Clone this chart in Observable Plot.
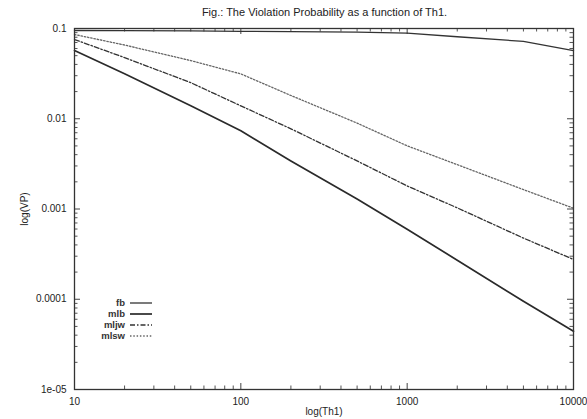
<!DOCTYPE html>
<html><head><meta charset="utf-8">
<script src="https://cdn.jsdelivr.net/npm/d3@7"></script>
<script src="https://cdn.jsdelivr.net/npm/@observablehq/plot@0.6"></script>
<style>
body{margin:0;background:#fff;font-family:"Liberation Sans",Arial,sans-serif;}
#wrap{position:relative;width:587px;height:419px;overflow:hidden;}
#title{height:20px;line-height:25px;font-size:11px;text-align:center;padding-left:62px;color:#222;white-space:nowrap;}
.lab{position:absolute;font-size:9.5px;font-weight:bold;color:#333;text-align:right;width:60px;line-height:10px;}
.smp{position:absolute;}
</style></head><body>
<div id="wrap">
<div id="title">Fig.: The Violation Probability as a function of Th1.</div>
<div id="chart"></div>
<div id="legend"></div>
</div>
<script>
// ---- data ----
const thresholds = [10, 20, 50, 100, 200, 500, 1000, 2000, 5000, 10000];
const fb   = [0.095, 0.0948, 0.0943, 0.093, 0.0925, 0.091, 0.0887, 0.081, 0.072, 0.057];
const mlb  = [0.057, 0.0316, 0.0139, 0.00736, 0.00341, 0.00129, 0.000595, 0.000271, 0.000095, 0.0000441];
const mljw = [0.0755, 0.0476, 0.0251, 0.0139, 0.00774, 0.00341, 0.0018, 0.00103, 0.000476, 0.000276];
const mlsw = [0.0858, 0.0656, 0.0441, 0.0314, 0.0181, 0.00895, 0.00501, 0.0031, 0.00164, 0.00102];
const seriesNames = ["fb", "mlb", "mljw", "mlsw"];
const xTickValues = [10, 100, 1000, 10000];
const xTickLabels = ["10", "100", "1000", "10000"];
const yTickValues = [0.1, 0.01, 0.001, 0.0001, 0.00001];
const yTickLabels = ["0.1", "0.01", "0.001", "0.0001", "1e-05"];

// ---- styles ----
const styles = {
  fb:   {stroke: "#333", strokeWidth: 1.3, dash: null},
  mlb:  {stroke: "#2a2a2a", strokeWidth: 1.7, dash: null},
  mljw: {stroke: "#333", strokeWidth: 1.3, dash: "5,2,1.5,2"},
  mlsw: {stroke: "#666", strokeWidth: 1.3, dash: "1.5,1.8"}
};
const values = {fb, mlb, mljw, mlsw};
const rows = seriesNames.flatMap(s => thresholds.map((t, i) => ({s, t, v: values[s][i]})));

const W = 587, H = 399, mL = 74, mR = 14, mT = 8, mB = 30;
const fw = W - mL - mR, fh = H - mT - mB;

const xMinor = [10, 100, 1000].flatMap(b => d3.range(2, 10).map(k => k * b));
const yMinor = [1e-5, 1e-4, 1e-3, 1e-2].flatMap(b => d3.range(2, 10).map(k => k * b));

const lineMarks = seriesNames.map(s => Plot.line(rows.filter(r => r.s === s), {
  x: "t", y: "v", stroke: styles[s].stroke, strokeWidth: styles[s].strokeWidth,
  strokeDasharray: styles[s].dash || undefined
}));

const chart = Plot.plot({
  width: W, height: H,
  marginLeft: mL, marginRight: mR, marginTop: mT, marginBottom: mB,
  style: {fontFamily: "Liberation Sans, Arial, sans-serif", fontSize: "10px", color: "#222", background: "#fff"},
  x: {type: "log", domain: [10, 10000]},
  y: {type: "log", domain: [1e-5, 0.1]},
  marks: [
    // inward ticks on all four sides
    Plot.tickX(xTickValues, {x: d => d, insetTop: fh - 6, stroke: "#444", strokeWidth: 1}),
    Plot.tickX(xTickValues, {x: d => d, insetBottom: fh - 6, stroke: "#444", strokeWidth: 1}),
    Plot.tickX(xMinor, {x: d => d, insetTop: fh - 3.5, stroke: "#555", strokeWidth: 1}),
    Plot.tickX(xMinor, {x: d => d, insetBottom: fh - 3.5, stroke: "#555", strokeWidth: 1}),
    Plot.tickY(yTickValues, {y: d => d, insetRight: fw - 6, stroke: "#444", strokeWidth: 1}),
    Plot.tickY(yTickValues, {y: d => d, insetLeft: fw - 6, stroke: "#444", strokeWidth: 1}),
    Plot.tickY(yMinor, {y: d => d, insetRight: fw - 3.5, stroke: "#555", strokeWidth: 1}),
    Plot.tickY(yMinor, {y: d => d, insetLeft: fw - 3.5, stroke: "#555", strokeWidth: 1}),
    ...lineMarks,
    Plot.frame({stroke: "#333", strokeWidth: 1.3}),
    Plot.axisX({ticks: xTickValues, tickFormat: d => xTickLabels[xTickValues.indexOf(d)], tickSize: 0, tickPadding: 8,
      label: "log(Th1)", labelAnchor: "center", labelArrow: "none", labelOffset: 25, fill: "#222"}),
    Plot.axisY({ticks: yTickValues, tickFormat: d => yTickLabels[yTickValues.indexOf(d)], tickSize: 0, tickPadding: 8,
      label: "log(VP)", labelAnchor: "center", labelArrow: "none", labelOffset: 54, fill: "#222"})
  ]
});
document.getElementById("chart").appendChild(chart);

// ---- legend (inside plot, lower left) ----
const legend = document.getElementById("legend");
const legendY = [303, 314, 325, 336];
seriesNames.forEach((s, i) => {
  const lab = document.createElement("div");
  lab.className = "lab";
  lab.style.left = (125 - 60) + "px";
  lab.style.top = (legendY[i] - 5) + "px";
  lab.textContent = s;
  legend.appendChild(lab);
  const ns = "http://www.w3.org/2000/svg";
  const svg = document.createElementNS(ns, "svg");
  svg.setAttribute("width", 24); svg.setAttribute("height", 6);
  svg.setAttribute("class", "smp");
  svg.style.left = "130px"; svg.style.top = (legendY[i] - 3) + "px";
  const ln = document.createElementNS(ns, "line");
  ln.setAttribute("x1", 0); ln.setAttribute("x2", 22); ln.setAttribute("y1", 3); ln.setAttribute("y2", 3);
  ln.setAttribute("stroke", styles[s].stroke); ln.setAttribute("stroke-width", styles[s].strokeWidth);
  if (styles[s].dash) ln.setAttribute("stroke-dasharray", styles[s].dash);
  svg.appendChild(ln);
  legend.appendChild(svg);
});
</script>
</body></html>
